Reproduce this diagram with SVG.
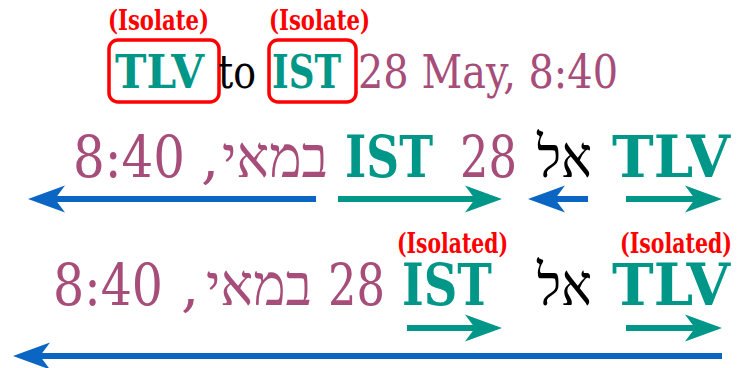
<svg xmlns="http://www.w3.org/2000/svg" width="739" height="368" viewBox="0 0 739 368">
<style>
text{font-family:"DejaVu Serif","Liberation Serif",serif}
.b{font-weight:bold}
.tl{fill:#009688}
.pu{fill:#a64d79}
.bk{fill:#000}
.rd{fill:#ff0000;font-weight:bold;font-size:27px}
.big{font-size:58px}
.mid{font-size:47px}
.he{font-family:"Liberation Serif","DejaVu Sans",serif}
.box{fill:none;stroke:#ff0000;stroke-width:3.5}
.ab{fill:none;stroke:#0a66c2;stroke-width:6;marker-end:url(#hb)}
.at{fill:none;stroke:#009688;stroke-width:6;marker-end:url(#ht)}
</style>
<defs>
<marker id="hb" markerUnits="userSpaceOnUse" viewBox="0 -14 38 28" markerWidth="38" markerHeight="28" refX="27" refY="0" orient="auto">
<path d="M37,0 L0,-13.5 L10,0 L0,13.5 Z" fill="#0a66c2"/>
</marker>
<marker id="ht" markerUnits="userSpaceOnUse" viewBox="0 -14 38 28" markerWidth="38" markerHeight="28" refX="27" refY="0" orient="auto">
<path d="M37,0 L0,-13.5 L10,0 L0,13.5 Z" fill="#009688"/>
</marker>
</defs>
<rect width="739" height="368" fill="#fff"/>

<g id="row1">
<g id="n-tlv1"><rect class="box" x="109" y="40" width="110" height="62" rx="9"/><text class="rd" x="108" y="30" textLength="101" lengthAdjust="spacingAndGlyphs">(Isolate)</text><text class="b tl mid" x="115" y="88" textLength="89" lengthAdjust="spacingAndGlyphs">TLV</text></g>
<g id="n-to1"><text class="bk mid" x="218" y="88" textLength="38" lengthAdjust="spacingAndGlyphs">to</text></g>
<g id="n-ist1"><rect class="box" x="269" y="40" width="87" height="62" rx="9"/><text class="rd" x="269" y="30" textLength="101" lengthAdjust="spacingAndGlyphs">(Isolate)</text><text class="b tl mid" x="272" y="88" textLength="69" lengthAdjust="spacingAndGlyphs">IST</text></g>
<g id="n-date1"><text class="pu mid" x="358" y="88" textLength="260" lengthAdjust="spacingAndGlyphs">28 May, 8:40</text></g>
</g>

<g id="row2">
<g id="n-time2"><text class="pu big" x="73" y="177" textLength="112" lengthAdjust="spacingAndGlyphs">8:40</text><text class="pu big" x="201" y="177">,</text></g>
<g id="n-may2"><text class="pu big he" x="222" y="177" textLength="106" lengthAdjust="spacingAndGlyphs">במאי</text></g>
<g id="n-ist2"><text class="b tl big" x="345" y="177" textLength="88" lengthAdjust="spacingAndGlyphs">IST</text></g>
<g id="n-28-2"><text class="pu big" x="460" y="177" textLength="57" lengthAdjust="spacingAndGlyphs">28</text></g>
<g id="n-el2"><text class="bk big he" x="537" y="177" textLength="55" lengthAdjust="spacingAndGlyphs">אל</text></g>
<g id="n-tlv2"><text class="b tl big" x="612" y="177" textLength="118" lengthAdjust="spacingAndGlyphs">TLV</text></g>
</g>

<g id="row3">
<g id="n-time3"><text class="pu big" x="53" y="305" textLength="110" lengthAdjust="spacingAndGlyphs">8:40</text><text class="pu big" x="181" y="305">,</text></g>
<g id="n-may3"><text class="pu big he" x="206" y="305" textLength="106" lengthAdjust="spacingAndGlyphs">במאי</text></g>
<g id="n-28-3"><text class="pu big" x="328" y="305" textLength="57" lengthAdjust="spacingAndGlyphs">28</text></g>
<g id="n-ist3"><text class="rd" x="397" y="253" textLength="111" lengthAdjust="spacingAndGlyphs">(Isolated)</text><text class="b tl big" x="402" y="305" textLength="90" lengthAdjust="spacingAndGlyphs">IST</text></g>
<g id="n-el3"><text class="bk big he" x="537" y="305" textLength="55" lengthAdjust="spacingAndGlyphs">אל</text></g>
<g id="n-tlv3"><text class="rd" x="620" y="253" textLength="112" lengthAdjust="spacingAndGlyphs">(Isolated)</text><text class="b tl big" x="612" y="305" textLength="118" lengthAdjust="spacingAndGlyphs">TLV</text></g>
</g>

<g id="connectors">
<path class="ab" d="M316,199 H38"/>
<path class="at" d="M338,199 H492"/>
<path class="ab" d="M588,199 H538"/>
<path class="at" d="M626,199 H712"/>
<path class="at" d="M407,328 H492"/>
<path class="at" d="M626,328 H712"/>
<path class="ab" d="M722,356 H23"/>
</g>
</svg>
